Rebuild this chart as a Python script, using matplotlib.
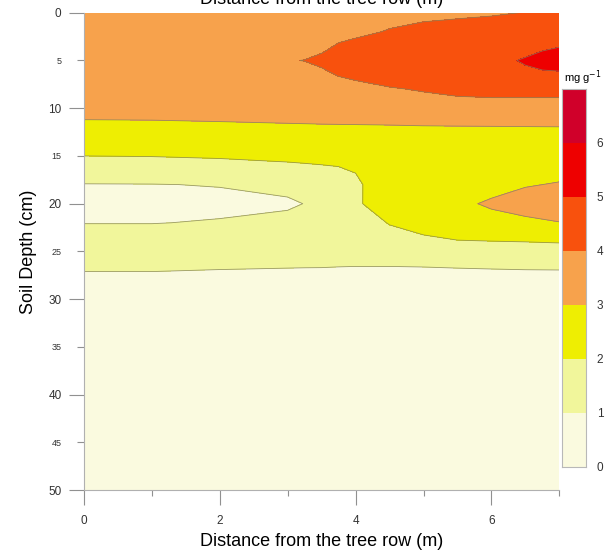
import numpy as np
import matplotlib
matplotlib.use("Agg")
import matplotlib.pyplot as plt
from matplotlib.colors import ListedColormap, BoundaryNorm
from matplotlib.ticker import MultipleLocator, FixedLocator, FixedFormatter

plt.rcParams['font.family'] = ['Liberation Sans', 'DejaVu Sans']

# distance from the tree row (m) and soil depth (cm) of the grid
distance = [0, 1, 2, 3, 3.25, 3.5, 3.75, 4, 4.5, 5, 5.5, 6, 6.5, 7]
depth = [0, 2, 4, 5, 6, 8, 10, 12, 14, 16, 18, 20, 22, 24, 26, 28, 30, 40, 50]

# concentration (mg g-1), one row per depth
conc = [
    [3.6, 3.6, 3.6, 3.65, 3.67, 3.7, 3.7, 3.7, 3.75, 3.82, 3.87, 3.92, 4.02, 4.2],
    [3.6, 3.6, 3.6, 3.65, 3.7, 3.75, 3.8, 3.85, 4.05, 4.2, 4.28, 4.38, 4.5, 4.6],
    [3.6, 3.6, 3.6, 3.7, 3.75, 3.95, 4.15, 4.3, 4.4, 4.5, 4.6, 4.75, 4.9, 5.1],
    [3.6, 3.6, 3.65, 3.95, 4.02, 4.15, 4.3, 4.4, 4.5, 4.6, 4.7, 4.85, 5.05, 5.35],
    [3.6, 3.6, 3.6, 3.7, 3.75, 3.95, 4.15, 4.3, 4.4, 4.5, 4.6, 4.75, 4.95, 5.05],
    [3.5, 3.5, 3.5, 3.55, 3.57, 3.6, 3.7, 3.75, 3.95, 4.05, 4.15, 4.2, 4.2, 4.2],
    [3.3, 3.3, 3.35, 3.45, 3.47, 3.5, 3.55, 3.6, 3.6, 3.7, 3.75, 3.75, 3.75, 3.75],
    [2.8, 2.82, 2.85, 2.88, 2.89, 2.9, 2.9, 2.9, 2.92, 2.94, 2.95, 2.96, 2.97, 2.98],
    [2.3, 2.32, 2.38, 2.45, 2.47, 2.5, 2.52, 2.55, 2.6, 2.6, 2.6, 2.55, 2.55, 2.5],
    [1.7, 1.72, 1.78, 1.9, 1.94, 1.98, 2.03, 2.1, 2.6, 2.6, 2.6, 2.55, 2.6, 2.7],
    [0.97, 0.98, 1.03, 1.15, 1.22, 1.3, 1.5, 1.85, 2.55, 2.6, 2.65, 2.75, 2.95, 3.05],
    [0.8, 0.8, 0.82, 0.92, 1.01, 1.1, 1.4, 1.88, 2.45, 2.65, 2.85, 3.1, 3.3, 3.4],
    [0.98, 0.98, 1.05, 1.15, 1.2, 1.25, 1.35, 1.5, 2.05, 2.35, 2.5, 2.75, 2.85, 2.98],
    [1.4, 1.4, 1.4, 1.45, 1.47, 1.5, 1.55, 1.6, 1.6, 1.8, 1.95, 1.97, 2.0, 2.05],
    [1.25, 1.25, 1.18, 1.15, 1.15, 1.15, 1.13, 1.12, 1.12, 1.13, 1.15, 1.16, 1.17, 1.18],
    [0.8, 0.8, 0.78, 0.75, 0.73, 0.72, 0.71, 0.7, 0.7, 0.72, 0.75, 0.78, 0.8, 0.8],
    [0.6] * 14,
    [0.4] * 14,
    [0.3] * 14,
]

levels = [0, 1, 2, 3, 4, 5, 6, 7]
colors = ['#FAFADF', '#F1F69B', '#EEEE02', '#F7A24C', '#F8510D', '#EE0000', '#D0002A']

cmap = ListedColormap(colors)
norm = BoundaryNorm(levels, cmap.N)

fig = plt.figure(figsize=(6.12, 5.55), dpi=100)
ax = fig.add_axes([0.137, 0.117, 0.777, 0.860])

X, Y = np.meshgrid(distance, depth)
Z = np.array(conc)
ax.contourf(X, Y, Z, levels=levels, cmap=cmap, norm=norm)
ax.contour(X, Y, Z, levels=levels[1:-1], colors='#85835a', linewidths=0.6, alpha=0.8)

ax.set_xlim(0, 7)
ax.set_ylim(50, 0)

for side in ['top', 'right']:
    ax.spines[side].set_visible(False)
for side in ['left', 'bottom']:
    ax.spines[side].set_color('#b0b0b0')
    ax.spines[side].set_linewidth(0.8)

ax.xaxis.set_major_locator(MultipleLocator(2))
ax.xaxis.set_minor_locator(FixedLocator([1, 3, 5, 7]))
ax.tick_params(axis='x', which='major', length=11, width=0.8, color='#909090',
               labelsize=8.5, pad=7, labelcolor='#333333')
ax.tick_params(axis='x', which='minor', length=4, width=0.8, color='#909090')

ax.yaxis.set_major_locator(MultipleLocator(10))
ax.yaxis.set_minor_locator(FixedLocator([5, 15, 25, 35, 45]))
ax.yaxis.set_minor_formatter(FixedFormatter(['5', '15', '25', '35', '45']))
ax.tick_params(axis='y', which='major', length=11, width=0.8, color='#909090',
               labelsize=8.5, pad=5, labelcolor='#333333')
ax.tick_params(axis='y', which='minor', length=5, width=0.8, color='#909090',
               labelsize=6.5, pad=11, labelcolor='#333333')

ax.set_xlabel('Distance from the tree row (m)', fontsize=13, labelpad=4)
ax.set_ylabel('Soil Depth (cm)', fontsize=13, labelpad=8)
fig.text(0.525, 1.0, 'Distance from the tree row (m)', fontsize=13,
         ha='center', va='center')

# colour key
cax = fig.add_axes([0.918, 0.159, 0.039, 0.681])
for i in range(len(colors)):
    cax.bar(0.5, levels[i + 1] - levels[i], bottom=levels[i], width=1,
            color=colors[i], edgecolor='none')
cax.set_xlim(0, 1)
cax.set_ylim(levels[0], levels[-1])
cax.set_xticks([])
cax.yaxis.tick_right()
cax.set_yticks(levels[:-1])
cax.tick_params(axis='y', length=0, labelsize=8.5, pad=8, labelcolor='#333333')
for s in cax.spines.values():
    s.set_color('#b8b8b8')
    s.set_linewidth(0.8)
fig.text(0.921, 0.843, 'mg g$^{-1}$', fontsize=8, ha='left', va='bottom')

fig.savefig('out.png', dpi=100)
